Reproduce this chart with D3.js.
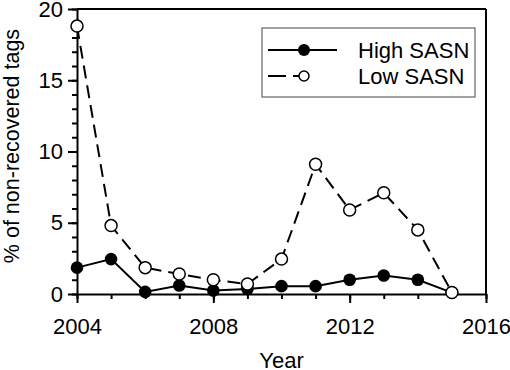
<!DOCTYPE html>
<html>
<head>
<meta charset="utf-8">
<script src="https://cdn.jsdelivr.net/npm/d3@7"></script>
<style>
  body { margin: 0; background: #fff; }
  text { font-family: "Liberation Sans", Arial, sans-serif; fill: #000; }
</style>
</head>
<body>
<div id="chart-area"></div>
<script>
// data
var years = [2004, 2005, 2006, 2007, 2008, 2009, 2010, 2011, 2012, 2013, 2014, 2015];
var highSASN = [1.85, 2.45, 0.15, 0.6, 0.25, 0.35, 0.55, 0.55, 1.0, 1.3, 1.0, 0.1];
var lowSASN = [18.8, 4.8, 1.85, 1.4, 1.0, 0.7, 2.45, 9.1, 5.9, 7.1, 4.5, 0.1];
var xTicks = [2004, 2008, 2012, 2016];
var yTicks = [0, 5, 10, 15, 20];
var seriesNames = ["High SASN", "Low SASN"];

var margin = {top: 9, right: 24, bottom: 76, left: 77};
var w = 510 - margin.left - margin.right;
var h = 370 - margin.top - margin.bottom;

var svg = d3.select("#chart-area").append("svg")
    .attr("width", 510)
    .attr("height", 370);

var g = svg.append("g")
    .attr("transform", "translate(" + margin.left + "," + margin.top + ")");

var x = d3.scaleLinear().domain([2004, 2016]).range([0, w]);
var y = d3.scaleLinear().domain([0, 20]).range([h, 0]);

// minor ticks every year / every unit
g.append("g")
    .attr("class", "minor")
    .attr("transform", "translate(0," + h + ")")
    .call(d3.axisBottom(x).tickValues(d3.range(2004, 2017)).tickSize(5).tickFormat(""));
g.append("g")
    .attr("class", "minor")
    .call(d3.axisLeft(y).tickValues(d3.range(0, 21)).tickSize(5).tickFormat(""));

var xAxis = g.append("g")
    .attr("transform", "translate(0," + h + ")")
    .call(d3.axisBottom(x).tickValues(xTicks).tickSize(9).tickSizeOuter(0)
        .tickPadding(15).tickFormat(d3.format("d")));

var yAxis = g.append("g")
    .call(d3.axisLeft(y).tickValues(yTicks).tickSize(9).tickSizeOuter(0).tickPadding(5));

g.selectAll(".minor .domain").remove();
g.selectAll(".tick line, .domain").attr("stroke", "#000").attr("stroke-width", 2);
g.selectAll(".tick text").attr("font-size", "22px").attr("font-family", null);

// frame top / right
g.append("line")
    .attr("x1", 0).attr("x2", w).attr("y1", 0).attr("y2", 0)
    .attr("stroke", "#000").attr("stroke-width", 2);
g.append("line")
    .attr("x1", w).attr("x2", w).attr("y1", 0).attr("y2", h)
    .attr("stroke", "#000").attr("stroke-width", 2);

var line = d3.line()
    .x((d) => { return x(d.year); })
    .y((d) => { return y(d.value); });

var high = years.map((yr, i) => { return {year: yr, value: highSASN[i]}; });
var low = years.map((yr, i) => { return {year: yr, value: lowSASN[i]}; });

g.append("path")
    .datum(high)
    .attr("d", line)
    .attr("fill", "none")
    .attr("stroke", "#000")
    .attr("stroke-width", 2);

g.selectAll(".pt-high")
    .data(high)
    .enter().append("circle")
    .attr("class", "pt-high")
    .attr("cx", (d) => { return x(d.year); })
    .attr("cy", (d) => { return y(d.value); })
    .attr("r", 6.3)
    .attr("fill", "#000");

g.append("path")
    .datum(low)
    .attr("d", line)
    .attr("fill", "none")
    .attr("stroke", "#000")
    .attr("stroke-width", 2)
    .attr("stroke-dasharray", "13,7");

g.selectAll(".pt-low")
    .data(low)
    .enter().append("circle")
    .attr("class", "pt-low")
    .attr("cx", (d) => { return x(d.year); })
    .attr("cy", (d) => { return y(d.value); })
    .attr("r", 6)
    .attr("fill", "#fff")
    .attr("stroke", "#000")
    .attr("stroke-width", 1.5);

// axis titles
svg.append("text")
    .attr("x", margin.left + w / 2)
    .attr("y", 368)
    .attr("font-size", "22px")
    .attr("text-anchor", "middle")
    .text("Year");

svg.append("text")
    .attr("transform", "translate(19,146) rotate(-90)")
    .attr("font-size", "21.5px")
    .attr("text-anchor", "middle")
    .text("% of non-recovered tags");

// legend
var legend = svg.append("g").attr("transform", "translate(262,28)");
legend.append("rect")
    .attr("width", 213).attr("height", 69)
    .attr("fill", "#fff")
    .attr("stroke", "#444").attr("stroke-width", 1);

seriesNames.forEach((name, i) => {
    var ly = 22 + i * 26;
    legend.append("line")
        .attr("x1", 6).attr("x2", 75).attr("y1", ly).attr("y2", ly)
        .attr("stroke", "#000").attr("stroke-width", 2)
        .attr("stroke-dasharray", i === 0 ? null : "18,7,6,38,7,18");
    legend.append("circle")
        .attr("cx", 42).attr("cy", ly).attr("r", i === 0 ? 6 : 5)
        .attr("fill", i === 0 ? "#000" : "#fff")
        .attr("stroke", "#000").attr("stroke-width", i === 0 ? 0 : 1.5);
    legend.append("text")
        .attr("x", 96).attr("y", ly + 7.5)
        .attr("font-size", "22px")
        .text(name);
});
</script>
</body>
</html>
